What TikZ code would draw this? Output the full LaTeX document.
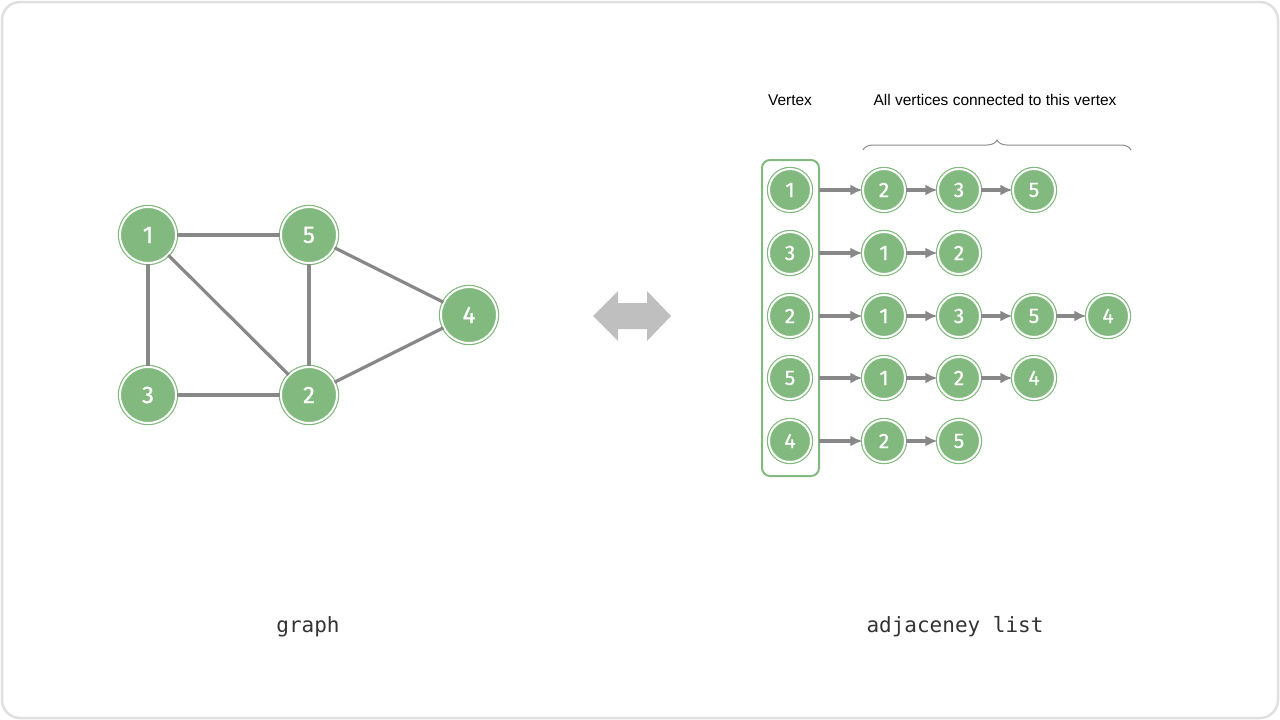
\documentclass[tikz,border=0pt]{standalone}
\usepackage{fontspec}
\setmainfont{Liberation Sans}
\newfontfamily\numfont{Fira Sans}[FakeBold=0.8]
\setmonofont{DejaVu Sans Mono}
\usetikzlibrary{arrows.meta,decorations.pathreplacing}
\definecolor{vgreen}{RGB}{130,185,126}
\definecolor{egray}{RGB}{136,136,136}
\tikzset{
  gnode/.style={circle, fill=vgreen, draw=vgreen, double=white, double distance=2pt,
    line width=1.2pt, minimum size=56pt, inner sep=0pt, text=white,
    font=\numfont\fontsize{24}{24}\selectfont},
  lnode/.style={gnode, minimum size=42pt, font=\numfont\fontsize{21}{21}\selectfont},
  gedge/.style={draw=egray, line width=3.2pt},
  ledge/.style={draw=egray, line width=3.2pt, ->},
  >={Latex[length=12pt,width=11pt]}
}
\begin{document}
\begin{tikzpicture}[x=1pt,y=-1pt]
  \useasboundingbox (0,0) rectangle (1280,720);
  \draw[black!12, line width=2.5pt, rounded corners=18pt] (2,2) rectangle (1278,718);
  % graph
  \node[gnode] (G1) at (148,235) {1};
  \node[gnode] (G5) at (309,235) {5};
  \node[gnode] (G4) at (469,315) {4};
  \node[gnode] (G3) at (148,395) {3};
  \node[gnode] (G2) at (309,395) {2};
  \draw[gedge] (G1) -- (G5);
  \draw[gedge] (G1) -- (G3);
  \draw[gedge] (G1) -- (G2);
  \draw[gedge] (G5) -- (G2);
  \draw[gedge] (G3) -- (G2);
  \draw[gedge] (G5) -- (G4);
  \draw[gedge] (G2) -- (G4);
  \node[font=\ttfamily\fontsize{21}{21}\selectfont, text=black!80] (graph) at (308,627) {graph};
  % double arrow
  \fill[black!25] (593,316) -- (618,291) -- (618,303) -- (647,303) -- (647,291)
    -- (671,316) -- (647,341) -- (647,329) -- (618,329) -- (618,341) -- cycle;
  % adjacency list
  \node[font=\fontsize{15.5}{15.5}\selectfont] (vertex) at (790,100) {Vertex};
  \node[font=\fontsize{15.5}{15.5}\selectfont] (all) at (995,100) {All vertices connected to this vertex};
  \draw[black!45, line width=1pt, decorate,
    decoration={brace, amplitude=10pt}] (863,150) -- (1131,150);
  \draw[vgreen, line width=2pt, rounded corners=8pt] (762,160) rectangle (819,476);
  \node[lnode] (V1) at (790,190) {1};
  \node[lnode] (V3) at (790,253) {3};
  \node[lnode] (V2) at (790,316) {2};
  \node[lnode] (V5) at (790,378) {5};
  \node[lnode] (V4) at (790,441) {4};
  \coordinate (B1) at (819,190);
  \coordinate (B3) at (819,253);
  \coordinate (B2) at (819,316);
  \coordinate (B5) at (819,378);
  \coordinate (B4) at (819,441);
  \node[lnode] (A1) at (884,190) {2};
  \node[lnode] (A2) at (959,190) {3};
  \node[lnode] (A3) at (1034,190) {5};
  \node[lnode] (C1) at (884,253) {1};
  \node[lnode] (C2) at (959,253) {2};
  \node[lnode] (D1) at (884,316) {1};
  \node[lnode] (D2) at (959,316) {3};
  \node[lnode] (D3) at (1034,316) {5};
  \node[lnode] (D4) at (1108,316) {4};
  \node[lnode] (E1) at (884,378) {1};
  \node[lnode] (E2) at (959,378) {2};
  \node[lnode] (E3) at (1034,378) {4};
  \node[lnode] (F1) at (884,441) {2};
  \node[lnode] (F2) at (959,441) {5};
  \draw[ledge] (B1) -- (A1);
  \draw[ledge] (A1) -- (A2);
  \draw[ledge] (A2) -- (A3);
  \draw[ledge] (B3) -- (C1);
  \draw[ledge] (C1) -- (C2);
  \draw[ledge] (B2) -- (D1);
  \draw[ledge] (D1) -- (D2);
  \draw[ledge] (D2) -- (D3);
  \draw[ledge] (D3) -- (D4);
  \draw[ledge] (B5) -- (E1);
  \draw[ledge] (E1) -- (E2);
  \draw[ledge] (E2) -- (E3);
  \draw[ledge] (B4) -- (F1);
  \draw[ledge] (F1) -- (F2);
  \node[font=\ttfamily\fontsize{21}{21}\selectfont, text=black!80] (adj) at (955,627) {adjaceney list};
\end{tikzpicture}
\end{document}
